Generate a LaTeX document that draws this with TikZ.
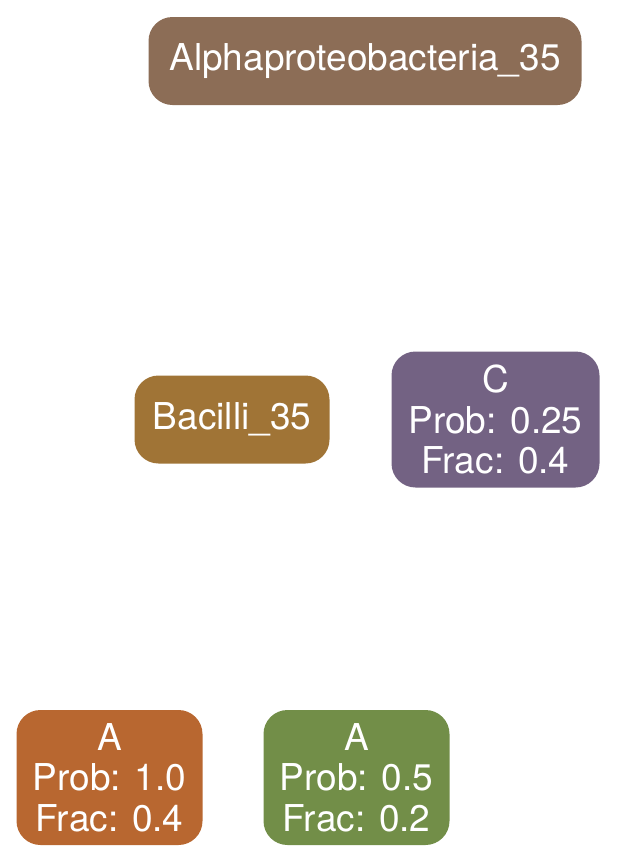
\documentclass[tikz,border=0pt]{standalone}
\usepackage{fontspec}
\setmainfont{TeX Gyre Heros}
\definecolor{calpha}{RGB}{140,109,86}
\definecolor{cbac}{RGB}{160,116,54}
\definecolor{cc}{RGB}{115,98,131}
\definecolor{corange}{RGB}{184,103,48}
\definecolor{cgreen}{RGB}{114,142,72}
\begin{document}
\begin{tikzpicture}[x=1pt,y=-1pt,
  taxbox/.style={rounded corners=24pt, inner sep=0pt, text=white, align=center,
    font=\fontsize{37}{40.5}\selectfont}]
\useasboundingbox (0,0) rectangle (617,863);
\node[taxbox, fill=calpha, minimum width=433pt, minimum height=88pt] (alpha) at (365,61) {Alphaproteobacteria\_35};
\node[taxbox, fill=cbac, minimum width=195pt, minimum height=88pt] (bac) at (232,419.5) {Bacilli\_35};
\node[taxbox, fill=cc, minimum width=208pt, minimum height=136pt] (c) at (495.5,419.5) {C\\Prob: 0.25\\Frac: 0.4};
\node[taxbox, fill=corange, minimum width=186pt, minimum height=135pt] (a1) at (109.5,777.5) {A\\Prob: 1.0\\Frac: 0.4};
\node[taxbox, fill=cgreen, minimum width=186pt, minimum height=135pt] (a2) at (356.5,777.5) {A\\Prob: 0.5\\Frac: 0.2};
\end{tikzpicture}
\end{document}
